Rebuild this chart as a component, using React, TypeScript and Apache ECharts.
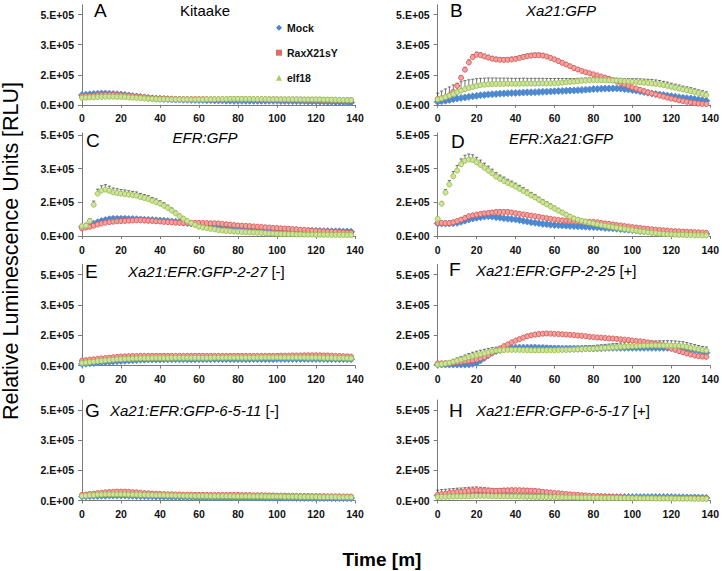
import React, { useEffect, useRef } from 'react';
import * as echarts from 'echarts';

// ---------------- DATA (values in units of 1e4 RLU) ----------------
const SCALE = 10000;
const TIME = [
  0, 2, 4, 6, 8, 10, 12, 14, 16, 18,
  20, 22, 24, 26, 28, 30, 32, 34, 36, 38,
  40, 42, 44, 46, 48, 50, 52, 54, 56, 58,
  60, 62, 64, 66, 68, 70, 72, 74, 76, 78,
  80, 82, 84, 86, 88, 90, 92, 94, 96, 98,
  100, 102, 104, 106, 108, 110, 112, 114, 116, 118,
  120, 122, 124, 126, 128, 130, 132, 134, 136, 138,
];
const X_TICKS = [0, 20, 40, 60, 80, 100, 120, 140];
const Y_TICKS = [0, 166667, 333333, 500000];
const Y_TICK_LABELS = ['0.E+00', '2.E+05', '3.E+05', '5.E+05'];
const SERIES_NAMES = ['Mock', 'RaxX21sY', 'elf18'];

// Panel A – Kitaake
const A_MOCK = [5.4,5.6,5.8,6.0,6.2,6.3,6.3,6.2,6.0,5.9, 5.7,5.5,5.2,4.9,4.6,4.4,4.1,3.8,3.6,3.4, 3.3,3.2,3.1,3.0,2.9,2.9,2.8,2.8,2.7,2.7, 2.6,2.6,2.5,2.5,2.4,2.4,2.4,2.3,2.3,2.2, 2.2,2.2,2.2,2.2,2.2,2.2,2.2,2.2,2.2,2.2, 2.2,2.1,2.1,2.1,2.0,2.0,2.0,2.0,1.9,1.9, 1.9,1.8,1.8,1.7,1.7,1.6,1.5,1.5,1.4,1.3];
const A_RAX = [4.8,4.9,5.0,5.1,5.3,5.4,5.5,5.5,5.5,5.4, 5.4,5.2,5.0,4.8,4.6,4.4,4.2,4.0,3.8,3.6, 3.5,3.4,3.3,3.3,3.2,3.2,3.2,3.1,3.1,3.1, 3.1,3.1,3.1,3.0,3.0,3.0,3.0,3.0,3.0,3.0, 3.0,3.0,3.0,3.0,3.0,3.0,3.0,3.0,3.0,3.0, 3.0,2.9,2.9,2.9,2.9,2.9,2.9,2.8,2.8,2.8, 2.8,2.8,2.7,2.7,2.7,2.7,2.7,2.6,2.6,2.6];
const A_ELF = [3.9,4.0,4.1,4.2,4.3,4.4,4.5,4.5,4.5,4.4, 4.4,4.3,4.1,4.0,3.8,3.7,3.5,3.4,3.3,3.2, 3.1,3.1,3.0,3.0,3.0,3.0,3.0,3.0,3.0,3.0, 3.0,3.0,3.1,3.1,3.1,3.2,3.2,3.2,3.3,3.3, 3.3,3.3,3.3,3.3,3.2,3.2,3.2,3.2,3.1,3.1, 3.1,3.1,3.1,3.1,3.1,3.1,3.0,3.0,3.0,3.0, 3.0,3.0,2.9,2.9,2.8,2.8,2.7,2.7,2.6,2.6];

// Panel B – Xa21:GFP
const B_MOCK = [1.7,2.0,2.3,2.7,3.1,3.5,3.8,4.1,4.4,4.7, 5.0,5.3,5.5,5.7,5.9,6.0,6.2,6.3,6.4,6.5, 6.6,6.7,6.8,6.9,6.9,7.0,7.1,7.2,7.3,7.4, 7.5,7.6,7.7,7.8,7.9,8.0,8.1,8.2,8.4,8.5, 8.7,8.8,8.9,9.0,9.0,9.1,9.1,9.0,8.8,8.5, 8.2,7.9,7.5,7.1,6.7,6.3,6.0,5.7,5.4,5.1, 4.8,4.5,4.2,3.9,3.7,3.5,3.2,2.9,2.5,2.2];
const B_RAX = [3.3,3.6,4.2,5.2,7.2,10.5,15.0,19.5,23.5,26.5, 27.8,27.5,26.8,26.2,25.6,25.2,25.0,24.9,25.0,25.2, 25.5,26.0,26.5,27.0,27.3,27.5,27.5,27.3,26.8,26.0, 25.2,24.3,23.3,22.4,21.4,20.4,19.6,18.8,18.1,17.5, 16.9,16.3,15.7,15.1,14.4,13.7,12.9,12.1,11.3,10.5, 9.7,9.0,8.3,7.6,6.9,6.3,5.7,5.1,4.6,4.0, 3.5,3.0,2.5,2.1,1.7,1.3,1.0,0.7,0.5,0.4];
const B_ELF = [3.0,3.6,4.3,5.1,6.0,7.0,7.9,8.7,9.4,10.0, 10.5,10.9,11.2,11.4,11.5,11.6,11.6,11.7,11.7,11.7, 11.7,11.7,11.8,11.8,11.8,11.8,11.9,11.9,11.9,11.9, 12.0,12.1,12.3,12.5,12.7,12.9,13.1,13.3,13.5,13.6, 13.7,13.7,13.7,13.6,13.6,13.5,13.4,13.3,13.1,13.0, 12.8,12.7,12.5,12.3,12.1,11.9,11.6,11.3,10.9,10.5, 10.0,9.5,9.0,8.5,8.1,7.6,7.1,6.5,6.0,5.4];
const B_RAX_ERR = [0.5,0.5,0.5,0.6,0.8,1.0,1.2,1.3,1.4,1.4, 1.4,1.4,1.3,1.3,1.3,1.2,1.2,1.2,1.2,1.2, 1.2,1.2,1.2,1.2,1.2,1.2,1.2,1.2,1.1,1.1, 1.0,1.0,0.9,0.9,0.8,0.8,0.8,0.7,0.7,0.7, 0.7,0.6,0.6,0.6,0.6,0.6,0.5,0.5,0.5,0.5, 0.5,0.5,0.5,0.5,0.5,0.5,0.5,0.5,0.5,0.5, 0.5,0.5,0.5,0.5,0.5,0.5,0.5,0.5,0.5,0.5];
const B_ELF_ERR = [3.5,4.0,4.5,4.8,5.0,5.0,4.9,4.7,4.5,4.2, 4.0,3.8,3.6,3.5,3.4,3.3,3.2,3.1,3.1,3.0, 3.0,3.0,3.0,2.9,2.9,2.9,2.8,2.8,2.7,2.7, 2.6,2.5,2.3,2.1,1.9,1.7,1.6,1.5,1.4,1.3, 1.3,1.3,1.3,1.3,1.3,1.3,1.4,1.4,1.5,1.6, 1.7,1.8,1.9,2.0,2.1,2.2,2.2,2.2,2.1,2.1, 2.0,2.0,2.0,1.9,1.9,1.9,1.8,1.8,1.8,1.8];

// Panel C – EFR:GFP
const C_MOCK = [4.6,5.0,5.5,6.1,6.8,7.4,7.9,8.3,8.5,8.5, 8.5,8.5,8.4,8.4,8.3,8.2,8.1,8.0,7.9,7.8, 7.7,7.5,7.4,7.2,7.1,6.9,6.6,6.4,6.2,5.9, 5.7,5.6,5.5,5.4,5.3,5.2,5.1,5.0,4.8,4.7, 4.6,4.5,4.3,4.2,4.0,3.9,3.8,3.7,3.5,3.4, 3.3,3.2,3.1,3.0,2.9,2.8,2.7,2.7,2.6,2.6, 2.5,2.5,2.4,2.4,2.3,2.3,2.3,2.2,2.2,2.1];
const C_RAX = [3.8,4.2,4.6,5.1,5.7,6.2,6.6,6.9,7.1,7.3, 7.4,7.5,7.6,7.7,7.8,7.8,7.7,7.6,7.5,7.3, 7.2,7.0,6.9,6.8,6.6,6.5,6.5,6.5,6.5,6.5, 6.5,6.4,6.4,6.3,6.3,6.2,6.0,5.8,5.6,5.4, 5.2,5.1,5.0,4.9,4.7,4.6,4.5,4.3,4.2,4.0, 3.9,3.8,3.7,3.6,3.4,3.3,3.1,3.0,2.8,2.7, 2.5,2.4,2.3,2.2,2.1,2.0,1.9,1.8,1.7,1.6];
const C_ELF = [4.9,5.2,7.4,15.5,21.0,22.5,23.0,22.4,21.6,21.3, 21.0,20.8,20.5,20.2,20.0,19.3,18.8,18.3,17.5,16.8, 16.0,15.0,13.9,12.6,11.2,9.8,8.6,7.4,6.4,5.5, 4.6,4.2,3.9,3.6,3.3,2.9,2.7,2.5,2.4,2.2, 2.1,2.0,1.9,1.8,1.7,1.6,1.5,1.4,1.3,1.2, 1.1,1.0,1.0,0.9,0.9,0.8,0.8,0.7,0.7,0.7, 0.6,0.6,0.6,0.6,0.5,0.5,0.5,0.5,0.5,0.5];
const C_MOCK_ERR = [0.3,0.4,0.5,0.6,0.8,0.9,1.0,1.0,1.0,1.0, 1.0,1.0,1.0,1.0,1.0,1.0,1.0,0.9,0.9,0.9, 0.9,0.8,0.8,0.8,0.7,0.7,0.7,0.6,0.6,0.6, 0.5,0.5,0.5,0.5,0.5,0.5,0.5,0.5,0.5,0.5, 0.5,0.5,0.5,0.5,0.5,0.5,0.5,0.5,0.5,0.5, 0.5,0.5,0.5,0.5,0.5,0.5,0.5,0.5,0.5,0.5, 0.5,0.5,0.5,0.5,0.5,0.5,0.5,0.5,0.5,0.5];
const C_ELF_ERR = [0.5,0.8,1.2,1.8,2.2,2.4,2.4,2.3,2.2,2.1, 2.0,2.0,1.9,1.9,1.8,1.8,1.7,1.7,1.6,1.6, 1.5,1.5,1.4,1.3,1.2,1.1,1.0,0.9,0.8,0.7, 0.6,0.6,0.5,0.5,0.5,0.5,0.5,0.5,0.5,0.5, 0.4,0.4,0.4,0.4,0.4,0.4,0.4,0.4,0.4,0.4, 0.4,0.4,0.4,0.4,0.4,0.4,0.4,0.4,0.4,0.4, 0.4,0.4,0.4,0.4,0.4,0.4,0.4,0.4,0.4,0.4];

// Panel D – EFR:Xa21:GFP
const D_MOCK = [6.2,6.2,6.2,6.2,6.3,6.5,7.0,7.6,8.2,8.7, 9.0,9.3,9.6,9.8,9.6,9.3,9.1,8.8,8.6,8.4, 8.2,7.9,7.5,7.2,6.8,6.5,6.3,6.0,5.8,5.6, 5.4,5.3,5.2,5.1,5.0,4.9,4.8,4.7,4.6,4.5, 4.4,4.3,4.2,4.0,3.9,3.8,3.6,3.4,3.2,3.1, 2.9,2.7,2.5,2.3,2.2,2.0,1.8,1.6,1.5,1.4, 1.3,1.3,1.2,1.2,1.1,1.1,1.1,1.0,1.0,1.0];
const D_RAX = [6.5,6.5,6.4,6.4,6.8,7.4,8.1,8.9,9.8,10.2, 10.6,10.9,11.2,11.4,11.6,11.9,11.9,11.9,11.9,11.6, 11.3,11.0,10.7,10.4,10.1,9.8,9.5,9.1,8.8,8.5, 8.2,8.0,7.8,7.6,7.5,7.4,7.3,7.2,7.1,7.0, 7.0,6.8,6.5,6.2,6.0,5.7,5.4,5.2,4.9,4.7, 4.4,4.2,4.0,3.7,3.5,3.3,3.1,3.0,2.8,2.7, 2.5,2.4,2.3,2.2,2.1,2.0,1.9,1.8,1.7,1.6];
const D_ELF = [8.5,16.0,21.5,25.5,29.6,32.4,35.6,37.3,37.9,37.6, 36.5,35.2,33.8,32.4,31.0,29.4,28.3,27.3,26.3,25.4, 24.5,23.4,22.3,21.2,20.1,19.1,17.9,16.7,15.7,14.6, 13.6,12.6,11.6,10.6,9.6,8.7,8.1,7.5,7.0,6.6, 6.2,5.8,5.4,5.1,4.7,4.4,4.1,3.8,3.5,3.2, 2.9,2.6,2.3,2.1,1.8,1.6,1.4,1.2,1.0,0.9, 0.8,0.7,0.6,0.6,0.5,0.5,0.4,0.4,0.3,0.3];
const D_RAX_ERR = [0.4,0.4,0.4,0.5,0.5,0.6,0.7,0.8,0.8,0.9, 0.9,0.9,0.9,0.9,0.9,0.9,0.9,0.9,0.9,0.8, 0.8,0.8,0.7,0.7,0.7,0.6,0.6,0.6,0.6,0.5, 0.5,0.5,0.5,0.5,0.5,0.5,0.5,0.5,0.5,0.5, 0.5,0.5,0.5,0.5,0.5,0.5,0.5,0.5,0.5,0.5, 0.5,0.5,0.5,0.5,0.5,0.5,0.5,0.5,0.5,0.5, 0.5,0.5,0.5,0.5,0.5,0.5,0.5,0.5,0.5,0.5];
const D_ELF_ERR = [0.5,1.0,1.5,2.0,2.3,2.5,2.6,2.7,2.7,2.6, 2.5,2.4,2.3,2.2,2.1,2.0,1.9,1.9,1.8,1.8, 1.7,1.7,1.6,1.6,1.5,1.5,1.4,1.4,1.3,1.3, 1.2,1.1,1.0,0.9,0.8,0.8,0.7,0.7,0.6,0.6, 0.5,0.5,0.5,0.5,0.5,0.5,0.5,0.5,0.5,0.5, 0.5,0.5,0.5,0.5,0.5,0.5,0.5,0.5,0.5,0.5, 0.5,0.5,0.5,0.5,0.5,0.5,0.5,0.5,0.5,0.5];

// Panel E – Xa21:EFR:GFP-2-27 [-]
const E_MOCK = [0.9,1.0,1.2,1.4,1.6,1.8,1.9,2.1,2.2,2.4, 2.5,2.6,2.8,2.9,3.0,3.2,3.2,3.3,3.3,3.3, 3.3,3.4,3.4,3.4,3.4,3.4,3.4,3.4,3.4,3.4, 3.5,3.5,3.5,3.5,3.5,3.5,3.5,3.5,3.5,3.5, 3.5,3.5,3.5,3.5,3.5,3.5,3.5,3.5,3.5,3.5, 3.6,3.6,3.6,3.6,3.6,3.6,3.6,3.6,3.6,3.6, 3.6,3.6,3.6,3.5,3.5,3.5,3.5,3.5,3.5,3.5];
const E_RAX = [2.6,2.9,3.2,3.4,3.7,3.9,4.1,4.3,4.5,4.7, 4.9,5.0,5.1,5.2,5.2,5.3,5.3,5.3,5.3,5.3, 5.3,5.3,5.3,5.3,5.3,5.3,5.3,5.3,5.3,5.3, 5.3,5.3,5.3,5.3,5.3,5.3,5.3,5.3,5.3,5.3, 5.3,5.3,5.3,5.3,5.3,5.3,5.3,5.3,5.3,5.3, 5.3,5.4,5.4,5.4,5.5,5.5,5.5,5.6,5.6,5.6, 5.6,5.6,5.5,5.5,5.4,5.3,5.2,5.1,5.0,4.9];
const E_ELF = [1.4,1.6,1.9,2.1,2.4,2.6,2.8,3.0,3.2,3.4, 3.5,3.6,3.7,3.8,3.9,4.0,4.0,4.0,4.1,4.1, 4.1,4.1,4.1,4.2,4.2,4.2,4.2,4.2,4.2,4.2, 4.2,4.2,4.2,4.2,4.3,4.3,4.3,4.3,4.3,4.3, 4.3,4.3,4.3,4.3,4.3,4.3,4.4,4.4,4.4,4.4, 4.4,4.4,4.4,4.4,4.4,4.4,4.4,4.4,4.3,4.3, 4.3,4.3,4.2,4.2,4.2,4.1,4.1,4.1,4.0,4.0];

// Panel F – Xa21:EFR:GFP-2-25 [+]
const F_MOCK = [0.5,0.5,0.5,0.5,0.5,0.5,0.5,0.5,0.6,0.9, 1.5,2.8,4.2,5.6,7.0,7.9,8.5,8.9,9.3,9.5, 9.7,9.7,9.7,9.7,9.7,9.7,9.6,9.6,9.5,9.4, 9.3,9.3,9.2,9.2,9.2,9.2,9.2,9.2,9.3,9.3, 9.3,9.4,9.5,9.6,9.7,9.7,9.7,9.7,9.7,9.7, 9.7,9.7,9.7,9.7,9.7,9.7,9.7,9.7,9.7,9.7, 9.7,9.6,9.5,9.3,9.1,8.8,8.5,8.1,7.6,7.0];
const F_RAX = [1.1,1.2,1.3,1.4,1.6,1.8,2.0,2.3,2.6,2.9, 3.3,3.9,4.6,5.7,7.0,8.2,9.4,10.6,11.6,12.7, 13.7,14.5,15.3,16.1,16.6,17.0,17.3,17.5,17.6,17.5, 17.4,17.3,17.2,17.0,16.9,16.7,16.5,16.3,16.1,15.8, 15.6,15.4,15.3,15.1,14.9,14.8,14.6,14.4,14.2,14.0, 13.7,13.5,13.3,13.0,12.7,12.3,11.9,11.6,11.2,10.3, 9.3,8.6,7.9,7.3,6.6,6.0,5.5,5.1,4.9,4.8];
const F_ELF = [0.5,0.8,1.1,1.5,2.1,2.7,3.3,3.9,4.6,5.2, 5.7,6.2,6.7,7.3,7.8,8.2,8.4,8.5,8.6,8.6, 8.6,8.6,8.5,8.5,8.4,8.4,8.4,8.4,8.4,8.4, 8.4,8.5,8.6,8.6,8.7,8.8,8.9,9.0,9.1,9.2, 9.3,9.4,9.6,9.7,9.9,10.0,10.1,10.3,10.4,10.5, 10.6,10.7,10.8,10.9,10.9,11.0,11.0,11.0,11.0,11.0, 11.0,10.9,10.8,10.6,10.2,9.7,9.3,8.9,8.5,8.2];
const F_MOCK_ERR = [0.2,0.2,0.2,0.2,0.2,0.2,0.2,0.2,0.2,0.2, 0.5,0.8,1.0,1.2,1.4,1.5,1.5,1.5,1.5,1.5, 1.5,1.5,1.5,1.5,1.5,1.5,1.5,1.5,1.5,1.5, 1.5,1.5,1.5,1.5,1.5,1.5,1.5,1.5,1.5,1.5, 1.5,1.5,1.5,1.5,1.5,1.5,1.5,1.5,1.5,1.5, 1.5,1.5,1.5,1.5,1.5,1.5,1.5,1.5,1.5,1.5, 1.5,1.5,1.5,1.5,1.4,1.4,1.3,1.3,1.2,1.2];
const F_ELF_ERR = [0.3,0.5,0.8,1.0,1.3,1.5,1.7,1.9,2.0,2.1, 2.2,2.2,2.2,2.1,2.0,1.9,1.8,1.7,1.6,1.5, 1.5,1.5,1.5,1.5,1.5,1.5,1.5,1.5,1.5,1.5, 1.5,1.5,1.5,1.5,1.5,1.5,1.5,1.6,1.6,1.7, 1.7,1.8,1.8,1.9,1.9,2.0,2.0,2.1,2.1,2.2, 2.2,2.3,2.3,2.4,2.4,2.5,2.5,2.6,2.6,2.6, 2.6,2.6,2.5,2.5,2.4,2.3,2.2,2.1,2.0,2.0];

// Panel G – Xa21:EFR:GFP-6-5-11 [-]
const G_MOCK = [2.2,2.3,2.4,2.5,2.5,2.6,2.6,2.7,2.7,2.7, 2.7,2.7,2.6,2.6,2.5,2.4,2.4,2.3,2.3,2.2, 2.2,2.1,2.1,2.0,2.0,2.0,1.9,1.9,1.9,1.8, 1.8,1.8,1.8,1.8,1.7,1.7,1.7,1.7,1.7,1.7, 1.6,1.6,1.6,1.6,1.6,1.6,1.6,1.5,1.5,1.5, 1.5,1.5,1.5,1.5,1.5,1.4,1.4,1.4,1.4,1.4, 1.4,1.4,1.4,1.4,1.3,1.3,1.3,1.3,1.3,1.3];
const G_RAX = [3.1,3.3,3.6,3.8,4.1,4.3,4.5,4.7,4.8,4.9, 4.9,4.9,4.8,4.6,4.5,4.3,4.1,4.0,3.8,3.7, 3.6,3.5,3.4,3.4,3.3,3.3,3.2,3.2,3.2,3.1, 3.1,3.1,3.1,3.1,3.1,3.1,3.1,3.1,3.1,3.1, 3.1,3.0,3.0,3.0,2.9,2.9,2.9,2.8,2.8,2.8, 2.7,2.7,2.7,2.6,2.6,2.6,2.5,2.5,2.5,2.4, 2.4,2.4,2.4,2.3,2.3,2.3,2.3,2.2,2.2,2.2];
const G_ELF = [2.5,2.7,2.9,3.0,3.2,3.3,3.4,3.4,3.4,3.4, 3.4,3.4,3.3,3.2,3.2,3.1,3.1,3.0,3.0,2.9, 2.9,2.9,2.8,2.8,2.7,2.7,2.6,2.6,2.6,2.5, 2.5,2.5,2.5,2.4,2.4,2.4,2.4,2.4,2.4,2.3, 2.3,2.3,2.3,2.3,2.3,2.3,2.3,2.2,2.2,2.2, 2.2,2.2,2.1,2.1,2.1,2.1,2.0,2.0,2.0,2.0, 2.0,1.9,1.9,1.9,1.9,1.9,1.8,1.8,1.8,1.8];

// Panel H – Xa21:EFR:GFP-6-5-17 [+]
const H_MOCK = [2.8,2.9,3.0,3.1,3.3,3.4,3.5,3.6,3.7,3.8, 3.8,3.8,3.7,3.6,3.5,3.4,3.3,3.2,3.0,2.9, 2.8,2.7,2.7,2.6,2.6,2.5,2.5,2.4,2.4,2.3, 2.3,2.2,2.2,2.1,2.1,2.0,2.0,2.0,1.9,1.9, 1.9,1.9,1.9,1.9,1.9,1.9,1.9,1.9,1.9,1.9, 1.9,1.9,1.9,1.9,1.9,1.9,1.9,1.9,1.9,1.9, 1.9,1.8,1.8,1.8,1.7,1.7,1.7,1.6,1.6,1.5];
const H_RAX = [3.2,3.5,3.8,4.1,4.4,4.7,4.9,5.1,5.3,5.5, 5.7,5.6,5.5,5.4,5.3,5.3,5.4,5.5,5.6,5.7, 5.7,5.7,5.6,5.5,5.4,5.3,5.1,4.8,4.6,4.4, 4.2,4.0,3.8,3.6,3.4,3.2,3.1,2.9,2.8,2.6, 2.5,2.4,2.3,2.2,2.0,1.9,1.9,1.8,1.7,1.6, 1.5,1.5,1.5,1.5,1.5,1.5,1.5,1.5,1.5,1.5, 1.5,1.5,1.4,1.4,1.4,1.4,1.4,1.3,1.3,1.3];
const H_ELF = [1.9,2.0,2.0,2.1,2.2,2.3,2.3,2.4,2.4,2.5, 2.5,2.5,2.5,2.5,2.4,2.4,2.4,2.4,2.3,2.3, 2.3,2.2,2.2,2.1,2.1,2.0,2.0,2.0,1.9,1.9, 1.9,1.8,1.8,1.7,1.7,1.7,1.6,1.6,1.6,1.5, 1.5,1.5,1.4,1.4,1.4,1.4,1.4,1.3,1.3,1.3, 1.3,1.3,1.2,1.2,1.2,1.2,1.1,1.1,1.1,1.1, 1.1,1.0,1.0,1.0,1.0,1.0,0.9,0.9,0.9,0.9];
const H_RAX_ERR = [2.5,2.5,2.4,2.3,2.2,2.1,2.0,2.0,2.0,1.9, 1.8,1.7,1.6,1.5,1.4,1.3,1.2,1.2,1.1,1.1, 1.0,1.0,1.0,1.0,1.0,0.9,0.9,0.9,0.8,0.8, 0.8,0.7,0.7,0.6,0.6,0.5,0.5,0.5,0.5,0.5, 0.4,0.4,0.4,0.4,0.4,0.4,0.4,0.4,0.4,0.4, 0.4,0.4,0.4,0.4,0.4,0.4,0.4,0.4,0.4,0.4, 0.4,0.4,0.4,0.4,0.4,0.4,0.4,0.4,0.4,0.4];

const PANELS = [
  { letter: 'A', title: 'Kitaake', italic: false, suffix: '', values: [A_MOCK, A_RAX, A_ELF], errors: [null, null, null] },
  { letter: 'B', title: 'Xa21:GFP', italic: true, suffix: '', values: [B_MOCK, B_RAX, B_ELF], errors: [null, B_RAX_ERR, B_ELF_ERR] },
  { letter: 'C', title: 'EFR:GFP', italic: true, suffix: '', values: [C_MOCK, C_RAX, C_ELF], errors: [C_MOCK_ERR, null, C_ELF_ERR] },
  { letter: 'D', title: 'EFR:Xa21:GFP', italic: true, suffix: '', values: [D_MOCK, D_RAX, D_ELF], errors: [null, D_RAX_ERR, D_ELF_ERR] },
  { letter: 'E', title: 'Xa21:EFR:GFP-2-27', italic: true, suffix: '[-]', values: [E_MOCK, E_RAX, E_ELF], errors: [null, null, null] },
  { letter: 'F', title: 'Xa21:EFR:GFP-2-25', italic: true, suffix: '[+]', values: [F_MOCK, F_RAX, F_ELF], errors: [F_MOCK_ERR, null, F_ELF_ERR] },
  { letter: 'G', title: 'Xa21:EFR:GFP-6-5-11', italic: true, suffix: '[-]', values: [G_MOCK, G_RAX, G_ELF], errors: [null, null, null] },
  { letter: 'H', title: 'Xa21:EFR:GFP-6-5-17', italic: true, suffix: '[+]', values: [H_MOCK, H_RAX, H_ELF], errors: [null, H_RAX_ERR, null] },
];

// ---------------- LAYOUT / STYLE ----------------
const FONT = '"Liberation Sans", Arial, sans-serif';
const AXIS_COLOR = '#7a7a7a';
const ERR_COLOR = '#3c3c3c';
const COL_LEFT = [82, 437.7];
const PLOT_W = 273;
const ROWS = [
  { top: 4.8, h: 100, max: 555000 },
  { top: 133, h: 103, max: 510000 },
  { top: 264.5, h: 101, max: 555000 },
  { top: 400, h: 100.5, max: 555000 },
];
const LETTER_POS = [[94, 10], [450, 10.5], [86, 140], [451, 141], [85, 271.5], [449, 269.5], [85, 410], [449, 410]];
const TITLE_POS: [number, number, string][] = [
  [205, 10, 'center'], [561, 10, 'center'], [205, 137.5, 'center'], [561, 138, 'center'],
  [128, 271, 'left'], [476, 270, 'left'], [110, 410, 'left'], [476, 410, 'left'],
];
const SERIES_STYLE = [
  { symbol: 'diamond', size: 7, color: '#4A86CF', border: '#5F95D6', legendIcon: 'diamond' },
  { symbol: 'circle', size: 5, color: '#F1A3A1', border: '#DE5F5C', legendIcon: 'rect' },
  { symbol: 'circle', size: 5, color: '#CFE39F', border: '#9DC253', legendIcon: 'triangle' },
];
const LEGEND_COLORS = ['#4A86CF', '#E06B69', '#A9CB63'];

function tickLabel(v: number): string {
  const idx = Y_TICKS.findIndex((t) => Math.abs(t - v) < 2);
  return idx >= 0 ? Y_TICK_LABELS[idx] : '';
}

function errRender(params: any, api: any) {
  const x = api.value(0);
  const y = api.value(1);
  const e = api.value(2);
  const p0 = api.coord([x, y]);
  const p1 = api.coord([x, y + e]);
  const st = { stroke: ERR_COLOR, lineWidth: 0.7 };
  return {
    type: 'group',
    children: [
      { type: 'line', shape: { x1: p0[0], y1: p0[1], x2: p1[0], y2: p1[1] }, style: st },
      { type: 'line', shape: { x1: p1[0] - 1.6, y1: p1[1], x2: p1[0] + 1.6, y2: p1[1] }, style: st },
    ],
  };
}

function buildOption() {
  const grid: any[] = [];
  const xAxis: any[] = [];
  const yAxis: any[] = [];
  const series: any[] = [];
  const graphic: any[] = [];

  PANELS.forEach((p, i) => {
    const row = ROWS[Math.floor(i / 2)];
    const left = COL_LEFT[i % 2];
    grid.push({ left, top: row.top, width: PLOT_W, height: row.h });
    xAxis.push({
      gridIndex: i, type: 'value', min: X_TICKS[0], max: X_TICKS[X_TICKS.length - 1], interval: 20,
      axisLine: { show: true, lineStyle: { color: AXIS_COLOR, width: 1 } },
      axisTick: { show: true, length: 3, lineStyle: { color: AXIS_COLOR } },
      axisLabel: { margin: 8, fontSize: 10.5, fontWeight: 'bold', color: '#111', fontFamily: FONT },
      splitLine: { show: false },
    });
    yAxis.push({
      gridIndex: i, type: 'value', min: 0, max: row.max,
      axisLine: { show: true, lineStyle: { color: AXIS_COLOR, width: 1 } },
      axisTick: { show: true, length: 4, customValues: Y_TICKS, lineStyle: { color: AXIS_COLOR } },
      axisLabel: { customValues: Y_TICKS, formatter: tickLabel, margin: 8, fontSize: 10.5, fontWeight: 'bold', color: '#111', fontFamily: FONT },
      splitLine: { show: false },
    });

    p.errors.forEach((err, s) => {
      if (!err) return;
      const vals = p.values[s];
      series.push({
        type: 'custom', xAxisIndex: i, yAxisIndex: i, silent: true,
        renderItem: errRender,
        encode: { x: 0, y: 1 },
        data: TIME.map((t, k) => [t, vals[k] * SCALE, err[k] * SCALE]),
      });
    });
    p.values.forEach((vals, s) => {
      const st = SERIES_STYLE[s];
      series.push({
        type: 'scatter', name: SERIES_NAMES[s], xAxisIndex: i, yAxisIndex: i,
        symbol: st.symbol, symbolSize: st.size,
        itemStyle: { color: st.color, borderColor: st.border, borderWidth: 1, opacity: 1 },
        emphasis: { disabled: true },
        data: TIME.map((t, k) => [t, vals[k] * SCALE]),
      });
    });

    const lp = LETTER_POS[i];
    graphic.push({
      type: 'text', x: lp[0], y: lp[1],
      style: { text: p.letter, fontSize: 19, fontFamily: FONT, fill: '#000', align: 'left', verticalAlign: 'middle' },
    });
    const tp = TITLE_POS[i];
    const txt = p.italic
      ? (p.suffix ? `{i|${p.title}} {n|${p.suffix}}` : `{i|${p.title}}`)
      : `{n|${p.title}}`;
    graphic.push({
      type: 'text', x: tp[0], y: tp[1],
      style: {
        text: txt, fontSize: 15, fontFamily: FONT, fill: '#000', align: tp[2], verticalAlign: 'middle',
        rich: {
          i: { fontStyle: 'italic', fontSize: 15, fontFamily: FONT, fill: '#000' },
          n: { fontSize: 15, fontFamily: FONT, fill: '#000' },
        },
      },
    });
  });

  graphic.push({
    type: 'text', x: 11, y: 251, rotation: Math.PI / 2,
    style: { text: 'Relative Luminescence Units [RLU]', fontSize: 21.5, fontFamily: FONT, fill: '#000', align: 'center', verticalAlign: 'middle' },
  });
  graphic.push({
    type: 'text', x: 382, y: 559,
    style: { text: 'Time [m]', fontSize: 19, fontWeight: 'bold', fontFamily: FONT, fill: '#000', align: 'center', verticalAlign: 'middle' },
  });

  return {
    animation: false,
    backgroundColor: '#ffffff',
    grid, xAxis, yAxis, series, graphic,
    legend: {
      data: SERIES_NAMES.map((n, s) => ({ name: n, icon: SERIES_STYLE[s].legendIcon, itemStyle: { color: LEGEND_COLORS[s], borderWidth: 0 } })),
      orient: 'vertical', left: 271, top: 16.7, itemWidth: 6, itemHeight: 6, itemGap: 13,
      selectedMode: false,
      textStyle: { fontSize: 10.5, fontWeight: 'bold', color: '#111', fontFamily: FONT, lineHeight: 12 },
    },
  };
}

export default function App() {
  const ref = useRef<HTMLDivElement>(null);
  useEffect(() => {
    const chart = echarts.init(ref.current as HTMLDivElement, null, { renderer: 'svg' });
    chart.setOption(buildOption() as any);
    return () => chart.dispose();
  }, []);
  return (
    <div
      ref={ref}
      style={{ position: 'absolute', left: 0, top: 0, width: 722, height: 571, background: '#fff' }}
    />
  );
}
